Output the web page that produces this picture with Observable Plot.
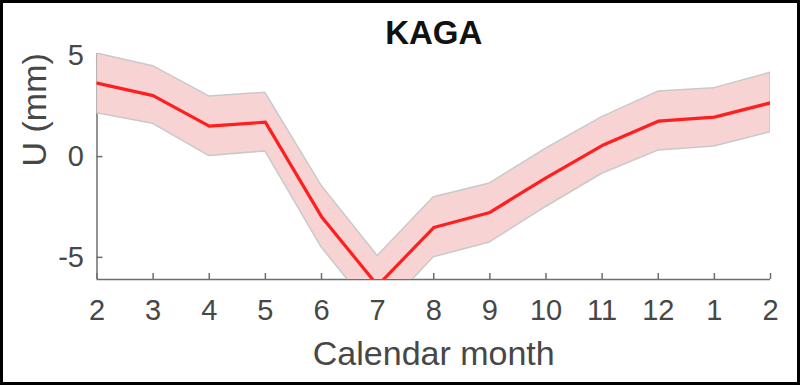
<!DOCTYPE html>
<html>
<head>
<meta charset="utf-8">
<script src="https://cdn.jsdelivr.net/npm/d3@7"></script>
<script src="https://cdn.jsdelivr.net/npm/@observablehq/plot@0.6"></script>
<style>
  html, body { margin: 0; padding: 0; background: #fff; }
  #chart svg { display: block; outline: 3px solid #000; outline-offset: -3px; }
</style>
</head>
<body>
<div id="chart"></div>
<script>
const monthLabels = ["2","3","4","5","6","7","8","9","10","11","12","1","2"];
const meanU  = [3.65, 3.03, 1.51, 1.71, -2.98, -6.4, -3.52, -2.77, -1.05, 0.55, 1.76, 1.96, 2.67];
const upperU = [5.12, 4.49, 2.99, 3.17, -1.44, -4.93, -2.02, -1.33, 0.40, 1.96, 3.23, 3.40, 4.16];
const lowerU = [2.15, 1.63, 0.03, 0.26, -4.50, -7.95, -5.00, -4.26, -2.50, -0.85, 0.30, 0.50, 1.21];
const yTicks = [-5, 0, 5];
const titleText = "KAGA";
const xLabel = "Calendar month";
const yLabel = "U (mm)";

const data = monthLabels.map((m, i) => ({i, mean: meanU[i], lo: lowerU[i], hi: upperU[i]}));
const xIdx = monthLabels.map((_, i) => i);

const W = 800, H = 385;
const mL = 96.5, mR = 30, mT = 53, mB = 106;
const plotW = W - mL - mR, plotH = H - mT - mB;
const yMin = -6.1, yMax = 5.12;
const axisColor = "#6e6e6e";
const textColor = "#474747";

const chart = Plot.plot({
  width: W, height: H,
  marginLeft: mL, marginRight: mR, marginTop: mT, marginBottom: mB,
  style: {fontFamily: "Liberation Sans, Arial, Helvetica, sans-serif", background: "#fff"},
  x: {domain: [0, monthLabels.length - 1]},
  y: {domain: [yMin, yMax]},
  marks: [
    Plot.ruleY([yMin], {stroke: axisColor, strokeWidth: 1.5}),
    Plot.ruleX([0], {stroke: axisColor, strokeWidth: 1.5}),
    Plot.tickX(xIdx, {x: d => d, stroke: axisColor, strokeWidth: 1.5, insetTop: plotH - 6}),
    Plot.tickY(yTicks, {y: d => d, stroke: axisColor, strokeWidth: 1.5, insetRight: plotW - 6}),
    Plot.areaY(data, {x: "i", y1: "lo", y2: "hi", fill: "#f8d3d3", stroke: "#c9c9c9", strokeWidth: 1.5, clip: true}),
    Plot.lineY(data, {x: "i", y: "mean", stroke: "#ff1f1f", strokeWidth: 3.2, clip: true}),
    Plot.axisX({ticks: xIdx, tickFormat: i => monthLabels[i], tickSize: 0, tickPadding: 20, fontSize: 29, fill: textColor, label: null}),
    Plot.axisY({ticks: yTicks, tickFormat: d => String(d), tickSize: 0, tickPadding: 13, fontSize: 29, fill: textColor, label: null}),
    Plot.text([xLabel], {frameAnchor: "bottom", dy: 75, lineAnchor: "middle", fontSize: 34, fill: textColor, text: d => d}),
    Plot.text([yLabel], {frameAnchor: "left", dx: -62, rotate: -90, lineAnchor: "middle", fontSize: 34, fill: textColor, text: d => d}),
    Plot.text([titleText], {frameAnchor: "top", dy: -20, lineAnchor: "middle", fontSize: 33, fontWeight: "bold", fill: "#111", text: d => d})
  ]
});
document.getElementById("chart").appendChild(chart);
</script>
</body>
</html>
